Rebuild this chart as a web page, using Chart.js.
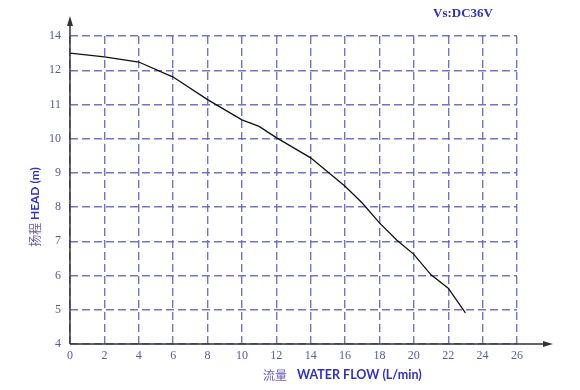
<!DOCTYPE html>
<html>
<head>
<meta charset="utf-8">
<script src="https://cdn.jsdelivr.net/npm/chart.js@4.4.0/dist/chart.umd.min.js"></script>
<style>
  html, body { margin: 0; padding: 0; background: #fff; }
  #wrap { width: 580px; height: 390px; }
</style>
</head>
<body>
<div id="wrap"><canvas id="pumpChart" width="580" height="390"></canvas></div>
<script>
// flow (L/min) and head (m)
const flow = [0, 2, 4, 6, 8, 10, 11, 12, 14, 16, 17, 18, 19, 20, 21, 22, 23];
const head = [12.5, 12.39, 12.24, 11.8, 11.14, 10.55, 10.36, 10.03, 9.44, 8.61, 8.12, 7.54, 7.04, 6.62, 6.02, 5.63, 4.91];

// the top grid line is labelled 14 in the original (13 skipped)
const yTickLabels = ['4', '5', '6', '7', '8', '9', '10', '11', '12', '14'];
const xTickLabels = ['0', '2', '4', '6', '8', '10', '12', '14', '16', '18', '20', '22', '24', '26'];

const gridColor = 'rgba(100, 100, 196, 0.9)';
const tickColor = '#5858a8';

// axis arrows and extra texts
const decorations = {
  id: 'decorations',
  afterDraw(chart) {
    const { ctx, chartArea, scales } = chart;
    const x0 = scales.x.getPixelForValue(0);
    const y0 = scales.y.getPixelForValue(4);
    const xEnd = chartArea.right + 36;
    const yEnd = chartArea.top - 20;

    ctx.save();
    ctx.strokeStyle = '#333';
    ctx.fillStyle = '#333';
    ctx.lineWidth = 1.5;
    ctx.beginPath();
    ctx.moveTo(x0, y0);
    ctx.lineTo(x0, yEnd + 4);
    ctx.moveTo(x0, y0);
    ctx.lineTo(xEnd - 4, y0);
    ctx.stroke();
    // arrow heads
    ctx.beginPath();
    ctx.moveTo(x0, yEnd);
    ctx.lineTo(x0 - 3, yEnd + 10);
    ctx.lineTo(x0 + 3, yEnd + 10);
    ctx.closePath();
    ctx.fill();
    ctx.beginPath();
    ctx.moveTo(xEnd, y0);
    ctx.lineTo(xEnd - 10, y0 - 3);
    ctx.lineTo(xEnd - 10, y0 + 3);
    ctx.closePath();
    ctx.fill();

    // y title
    ctx.save();
    ctx.translate(35, (chartArea.top + chartArea.bottom) / 2 + 17);
    ctx.rotate(-Math.PI / 2);
    ctx.textBaseline = 'middle';
    ctx.textAlign = 'left';
    const cn = '扬程 ';
    ctx.font = 'bold 12px Lato';
    const enW = ctx.measureText('HEAD (m)').width;
    ctx.font = '12px "Noto Sans CJK SC"';
    const cnW = ctx.measureText(cn).width;
    const startY = -(cnW + enW) / 2;
    ctx.fillStyle = '#6a5ab4';
    ctx.fillText(cn, startY, 0);
    ctx.font = 'bold 12px Lato';
    ctx.fillStyle = '#2f2fc8';
    ctx.fillText('HEAD (m)', startY + cnW, 0);
    ctx.restore();

    // x title
    ctx.textBaseline = 'middle';
    ctx.textAlign = 'left';
    ctx.font = '12px "Noto Sans CJK SC"';
    ctx.fillStyle = '#6a5ab4';
    ctx.fillText('流量', 263, 375);
    ctx.font = 'bold 12.5px Lato';
    ctx.fillStyle = '#2f2fc8';
    ctx.fillText('WATER FLOW (L/min)', 297, 375);

    // voltage note
    ctx.font = 'bold 13px "Liberation Serif"';
    ctx.fillStyle = '#2f2fb8';
    ctx.fillText('Vs:DC36V', 433, 14);
    ctx.restore();
  }
};

new Chart(document.getElementById('pumpChart'), {
  type: 'line',
  data: {
    datasets: [{
      data: flow.map((f, i) => ({ x: f, y: head[i] })),
      borderColor: '#111',
      borderWidth: 1.3,
      pointRadius: 0,
      tension: 0,
      fill: false
    }]
  },
  options: {
    responsive: false,
    animation: false,
    layout: { padding: { left: 0, right: 63, top: 36, bottom: 0 } },
    plugins: {
      legend: { display: false },
      tooltip: { enabled: false }
    },
    scales: {
      x: {
        type: 'linear',
        min: 0,
        max: 26,
        afterFit: s => { s.height = 46; },
        border: { display: false, dash: [8, 4] },
        grid: {
          color: gridColor,
          lineWidth: 1.4,
          drawTicks: false
        },
        ticks: {
          stepSize: 2,
          padding: 5,
          color: tickColor,
          font: { family: '"Liberation Serif"', size: 12 },
          callback: (v, i) => xTickLabels[i]
        }
      },
      y: {
        min: 4,
        max: 13,
        afterFit: s => { s.width = 70; },
        border: { display: false, dash: [8, 4] },
        grid: {
          color: gridColor,
          lineWidth: 1.4,
          drawTicks: false
        },
        ticks: {
          stepSize: 1,
          padding: 9,
          color: tickColor,
          font: { family: '"Liberation Serif"', size: 12 },
          callback: (v, i) => yTickLabels[i]
        }
      }
    }
  },
  plugins: [decorations]
});
</script>
</body>
</html>
